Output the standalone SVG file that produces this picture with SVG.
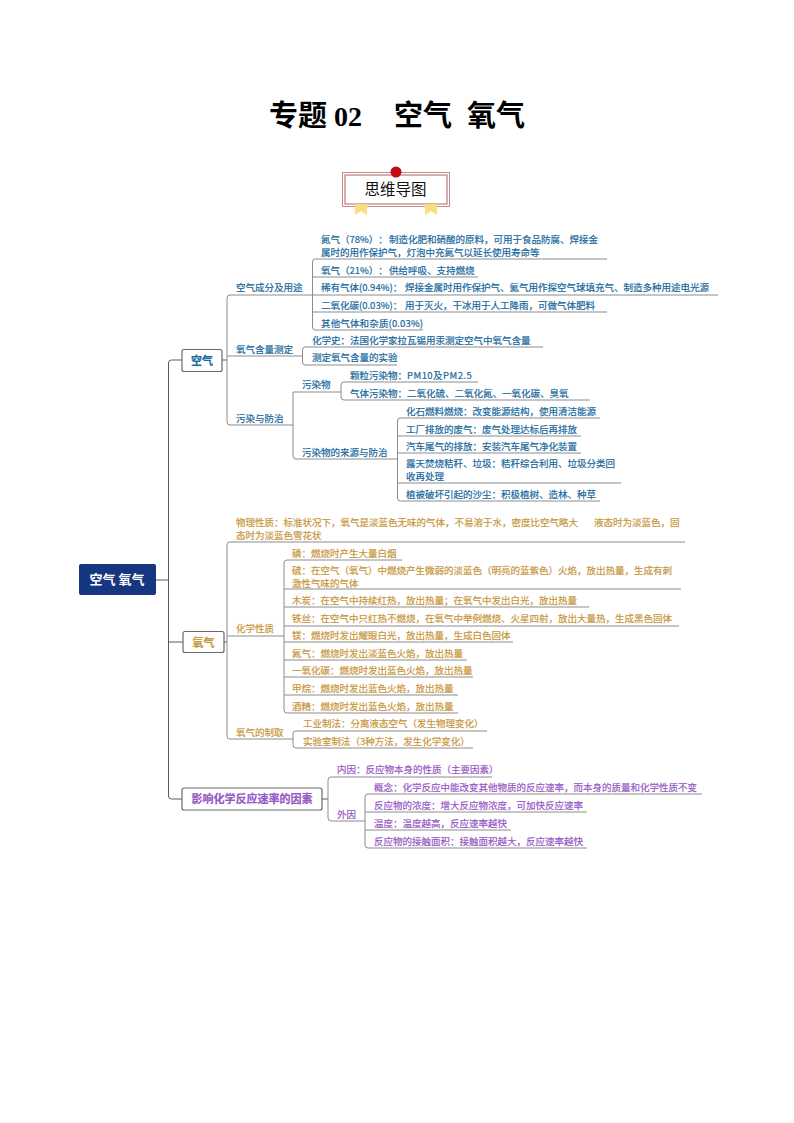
<svg xmlns="http://www.w3.org/2000/svg" width="794" height="1123" viewBox="0 0 794 1123">
<style>
text{font-family:"Noto Sans CJK SC","Liberation Sans",sans-serif;font-size:9.5px;text-spacing-trim:space-all}
.b{fill:#17689c;stroke:#17689c;stroke-width:.2}.g{fill:#c8963c;stroke:#c8963c;stroke-width:.2}.p{fill:#9658c4;stroke:#9658c4;stroke-width:.2}
.c{fill:none;stroke:#8c8c8c;stroke-width:1}
.t{fill:none;stroke:#5a5a5a;stroke-width:1}
.box{fill:#fff;stroke:#6a6a6a;stroke-width:1.2}
.n{font-size:11px;font-weight:700;text-anchor:middle}
</style>
<rect width="794" height="1123" fill="#fff"/>
<g id="title"><text y="126" style="font-size:29px;font-weight:700" fill="#000"><tspan x="269">专题</tspan><tspan x="334" style="font-family:'Liberation Serif',serif;font-size:28px">02</tspan><tspan x="394">空气</tspan><tspan x="467">氧气</tspan></text></g>
<g id="badge">
<path d="M355 203H367V215L361 211L355 215ZM425 203H437V215L431 211L425 215Z" fill="#fbdc7c"/>
<rect x="342.500" y="172.500" width="107" height="34" fill="none" stroke="#c08a8a" stroke-width="1"/>
<rect x="345" y="175" width="102" height="29" fill="#fff" stroke="#b06060" stroke-width="1"/>
<path d="M355 204H367V208H355ZM425 204H437V208H425Z" fill="#fbdc7c"/>
<circle cx="396" cy="172" r="5.500" fill="#c00d12"/>
<text x="395.500" y="195" text-anchor="middle" style="font-size:15.500px" fill="#111">思维导图</text>
</g>
<g id="connectors">
<path class="t" d="M156 580H168.500M182 360H171.500Q168.500 360 168.500 363V796Q168.500 799 171.500 799H182M168.500 642H183"/>
<path class="t" d="M222 360H227M224 642H227M322 799H328"/>
<path class="c" d="M312 295H230Q227 295 227 298V422Q227 425 230 425H293M227 356H302M293 392H341M293 392V456Q293 459 296 459H397"/>
<path class="c" d="M607 259H315Q312.500 259 312.500 262V327Q312.500 330 315.500 330H423M478 277H312.500M718 295H312.500M607 312H312.500"/>
<path class="c" d="M543 347H305Q302.500 347 302.500 350V362Q302.500 365 305.500 365H397"/>
<path class="c" d="M478 382H344Q341 382 341 385V397Q341 400 344 400H590"/>
<path class="c" d="M600 418H400Q397.500 418 397.500 421V498Q397.500 501 400.500 501H600M581 436H397.500M581 453H397.500M621 483H397.500"/>
<path class="c" d="M685 542H230Q227 542 227 545V736Q227 739 230 739H293M227 636H284"/>
<path class="c" d="M402 560H287Q284 560 284 563V710Q284 713 287 713H458M681 589H284M589 607H284M679 626H284M513 642H284M467 660H284M473 677H284M458 695H284"/>
<path class="c" d="M487 731H296Q293 731 293 734V745Q293 748 296 748H473"/>
<path class="c" d="M492 777H331Q328 777 328 780V818Q328 821 331 821H365"/>
<path class="c" d="M702 794H368Q365 794 365 797V845Q365 848 368 848H587M587 812H365M511 830H365"/>
</g>
<g id="root"><rect x="79" y="564" width="77" height="31" rx="2" fill="#173680"/><text class="n" x="117" y="584" style="font-size:13px" fill="#fff">空气 氧气</text></g>
<g id="kongqi"><rect class="box" x="182" y="349.500" width="40" height="22" rx="2"/><text class="n b" x="202" y="365">空气</text></g>
<g id="yangqi"><rect class="box" x="183" y="631.500" width="41" height="21" rx="2"/><text class="n g" x="203.500" y="646.500">氧气</text></g>
<g id="yingxiang"><rect class="box" x="182" y="788" width="140" height="22" rx="2"/><text class="n p" x="252" y="803">影响化学反应速率的因素</text></g>
<g id="air-branches" class="b">
<g id="a1"><text x="236" y="291">空气成分及用途</text></g>
<g id="a2"><text x="236" y="353">氧气含量测定</text></g>
<g id="a3"><text x="236" y="422">污染与防治</text></g>
<g id="a4"><text x="321" y="243">氮气（78%）：<tspan x="389">制造化肥和硝酸的原料，可用于食品防腐、焊接金</tspan></text><text x="321" y="256">属时的用作保护气，灯泡中充氮气以延长使用寿命等</text></g>
<g id="a5"><text x="321" y="274">氧气（21%）：<tspan x="389">供给呼吸、支持燃烧</tspan></text></g>
<g id="a6"><text x="321" y="291">稀有气体(0.94%)：<tspan x="405">焊接金属时用作保护气、氦气用作探空气球填充气、制造多种用途电光源</tspan></text></g>
<g id="a7"><text x="321" y="309">二氧化碳(0.03%)：<tspan x="405">用于灭火，干冰用于人工降雨，可做气体肥料</tspan></text></g>
<g id="a8"><text x="321" y="327" textLength="102">其他气体和杂质(0.03%)</text></g>
<g id="a9"><text x="312" y="344">化学史：法国化学家拉瓦锡用汞测定空气中氧气含量</text></g>
<g id="a10"><text x="312" y="361">测定氧气含量的实验</text></g>
<g id="a11"><text x="302" y="388">污染物</text></g>
<g id="a12"><text x="350" y="379">颗粒污染物：<tspan x="407" letter-spacing=".45">PM10及PM2.5</tspan></text></g>
<g id="a13"><text x="350" y="397">气体污染物：二氧化硫、二氧化氮、一氧化碳、臭氧</text></g>
<g id="a14"><text x="302" y="456">污染物的来源与防治</text></g>
<g id="a15"><text x="406" y="415">化石燃料燃烧：改变能源结构，使用清洁能源</text></g>
<g id="a16"><text x="406" y="433">工厂排放的废气：废气处理达标后再排放</text></g>
<g id="a17"><text x="406" y="450">汽车尾气的排放：安装汽车尾气净化装置</text></g>
<g id="a18"><text x="406" y="467">露天焚烧秸秆、垃圾：秸秆综合利用、垃圾分类回</text><text x="406" y="480">收再处理</text></g>
<g id="a19"><text x="406" y="498">植被破坏引起的沙尘：积极植树、造林、种草</text></g>
</g>
<g id="oxygen-branches" class="g">
<g id="o1"><text x="236" y="526">物理性质：标准状况下，氧气是淡蓝色无味的气体，不易溶于水，密度比空气略大</text><text x="594" y="526">液态时为淡蓝色，固</text><text x="236" y="539">态时为淡蓝色雪花状</text></g>
<g id="o2"><text x="236" y="632">化学性质</text></g>
<g id="o3"><text x="236" y="736">氧气的制取</text></g>
<g id="o4"><text x="292" y="557">磷：燃烧时产生大量白烟</text></g>
<g id="o5"><text x="292" y="574">硫：在空气（氧气）中燃烧产生微弱的淡蓝色（明亮的蓝紫色）火焰，放出热量，生成有刺</text><text x="292" y="587">激性气味的气体</text></g>
<g id="o6"><text x="292" y="604">木炭：在空气中持续红热，放出热量；在氧气中发出白光，放出热量</text></g>
<g id="o7"><text x="292" y="622">铁丝：在空气中只红热不燃烧，在氧气中举例燃烧、火星四射，放出大量热，生成黑色固体</text></g>
<g id="o8"><text x="292" y="639">镁：燃烧时发出耀眼白光，放出热量，生成白色固体</text></g>
<g id="o9"><text x="292" y="657">氮气：燃烧时发出淡蓝色火焰，放出热量</text></g>
<g id="o10"><text x="292" y="674">一氧化碳：燃烧时发出蓝色火焰，放出热量</text></g>
<g id="o11"><text x="292" y="692">甲烷：燃烧时发出蓝色火焰，放出热量</text></g>
<g id="o12"><text x="292" y="710">酒精：燃烧时发出蓝色火焰，放出热量</text></g>
<g id="o13"><text x="303" y="727">工业制法：分离液态空气（发生物理变化）</text></g>
<g id="o14"><text x="303" y="745">实验室制法（3种方法，发生化学变化）</text></g>
</g>
<g id="rate-branches" class="p">
<g id="r1"><text x="337" y="773">内因：反应物本身的性质（主要因素）</text></g>
<g id="r2"><text x="337" y="818">外因</text></g>
<g id="r3"><text x="374" y="791">概念：化学反应中能改变其他物质的反应速率，而本身的质量和化学性质不变</text></g>
<g id="r4"><text x="374" y="809">反应物的浓度：增大反应物浓度，可加快反应速率</text></g>
<g id="r5"><text x="374" y="827">温度：温度越高，反应速率越快</text></g>
<g id="r6"><text x="374" y="845">反应物的接触面积：接触面积越大，反应速率越快</text></g>
</g>
</svg>
